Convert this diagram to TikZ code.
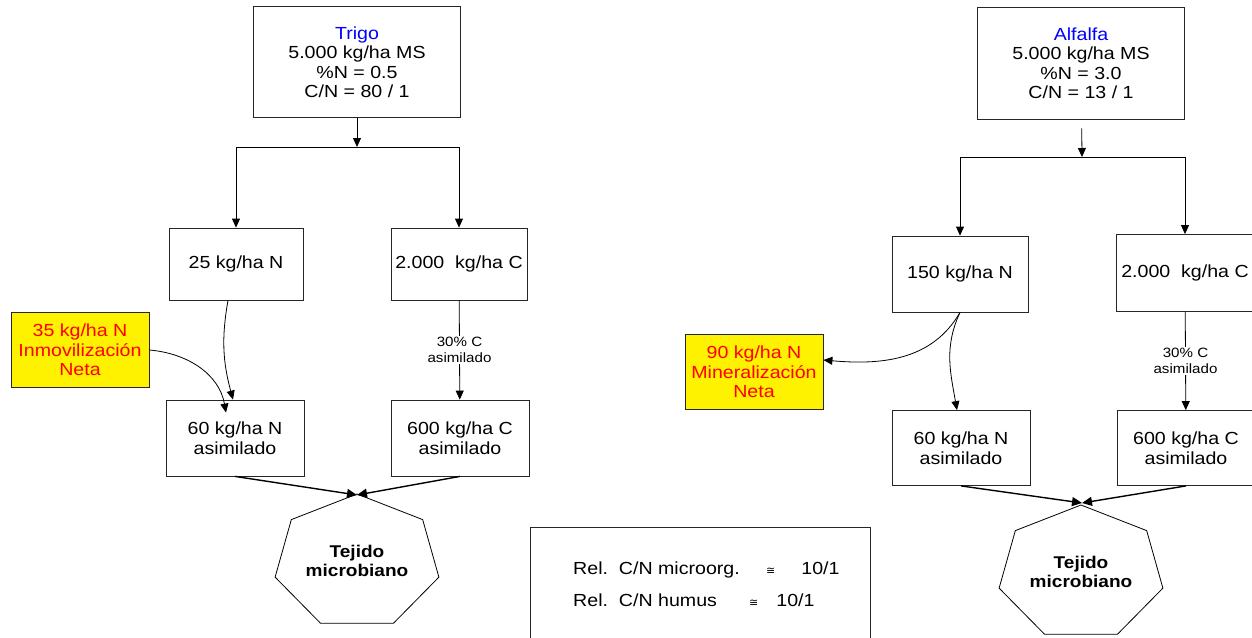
\documentclass[tikz,border=0pt]{standalone}
\usepackage{fontspec}
\setmainfont{Liberation Sans}[FakeStretch=1.12]
\newfontfamily\simbolo{DejaVu Sans}
\usetikzlibrary{arrows.meta,calc}

\tikzset{
  caja/.style={draw=black!85, line width=0.8pt, minimum width=136pt, minimum height=74pt, align=center, inner sep=2pt},
  nota/.style={caja, fill=yellow, text=red},
  flecha/.style={line width=0.8pt, -{Triangle[length=9pt,width=8pt]}},
  union/.style={line width=1.4pt, -{Triangle[length=10pt,width=9pt]}},
  chico/.style={fill=white, inner sep=1pt, align=center, font=\fontsize{13.5}{15.5}\selectfont},
  tejido/.style={align=center, font=\fontsize{17}{19.5}\selectfont\bfseries}
}
\newcommand{\aprox}{{\simbolo\fontsize{11}{13}\selectfont ≅}}

\begin{document}
\begin{tikzpicture}[x=1pt, y=1pt, font=\fontsize{17.5}{19.5}\selectfont]
  \useasboundingbox (0,0) rectangle (1252,-637);

  % Trigo
  \node[caja, minimum width=207pt, minimum height=111pt] (trigo) at (357,-62)
    {\textcolor{blue}{Trigo}\\5.000 kg/ha MS\\\%N = 0.5\\C/N = 80 / 1};
  \coordinate (splitA) at (357,-147);
  \node[caja, minimum width=134pt, minimum height=72pt] (nA) at (236,-264) {25 kg/ha N};
  \node[caja, minimum height=72pt] (cA) at (459,-264) {2.000\ \ kg/ha C};
  \node[nota, minimum width=138pt, minimum height=75pt] (inmov) at (80,-350)
    {35 kg/ha N\\Inmovilización\\Neta};
  \node[caja, minimum width=138pt, minimum height=76pt] (naA) at (235,-438) {60 kg/ha N\\asimilado};
  \node[caja, minimum width=138pt, minimum height=76pt] (caA) at (460,-438) {600 kg/ha C\\asimilado};

  \draw[flecha] (trigo) -- (splitA);
  \draw[flecha] (splitA) -| (nA);
  \draw[flecha] (splitA) -| (cA);
  \draw[flecha] (cA) -- node[chico] {30\% C\\asimilado} (caA);
  \draw[flecha] ([xshift=-8pt]nA.south) to[out=-100,in=105] ([xshift=-2pt]naA.north);
  \draw[flecha] (inmov.east) to[out=-5,in=100] ([xshift=-9pt,yshift=-13pt]naA.north);

  % tejido microbiano (trigo)
  \draw[line width=0.8pt, shift={(357,-562)}]
    plot[samples at={0,...,6}] ({84*cos(90+\x*360/7)},{68*sin(90+\x*360/7)}) -- cycle;
  \coordinate (topA) at (357,-495);
  \node[tejido] (tejA) at (357,-561) {Tejido\\microbiano};
  \draw[union] (naA.south) -- (topA);
  \draw[union] (caA.south) -- (topA);

  % Alfalfa
  \node[caja, minimum width=207pt, minimum height=112pt] (alfalfa) at (1081,-63)
    {\textcolor{blue}{Alfalfa}\\5.000 kg/ha MS\\\%N = 3.0\\C/N = 13 / 1};
  \coordinate (splitB) at (1082,-157);
  \node[caja, minimum height=76pt] (nB) at (960,-274) {150 kg/ha N};
  \node[caja, minimum width=138pt, minimum height=77pt] (cB) at (1185,-273) {2.000\ \ kg/ha C};
  \node[nota, minimum width=138pt, minimum height=75pt] (miner) at (754,-372)
    {90 kg/ha N\\Mineralización\\Neta};
  \node[caja, minimum width=138pt, minimum height=75pt] (naB) at (961,-448) {60 kg/ha N\\asimilado};
  \node[caja, minimum width=138pt, minimum height=75pt] (caB) at (1186,-448) {600 kg/ha C\\asimilado};

  \draw[flecha, shorten <=9pt] (alfalfa) -- (splitB);
  \draw[flecha] (splitB) -| (nB);
  \draw[flecha] (splitB) -| (cB);
  \draw[flecha] (cB) -- node[chico] {30\% C\\asimilado} (caB);
  \draw[flecha] (nB.south) to[out=-120,in=-5] ([yshift=12pt]miner.east);
  \draw[flecha] (nB.south) to[out=-115,in=100] ([xshift=-4pt]naB.north);

  % tejido microbiano (alfalfa)
  \draw[line width=0.8pt, shift={(1081,-573)}]
    plot[samples at={0,...,6}] ({84*cos(90+\x*360/7)},{68*sin(90+\x*360/7)}) -- cycle;
  \coordinate (topB) at (1082,-503);
  \node[tejido] (tejB) at (1081,-572) {Tejido\\microbiano};
  \draw[union] (naB.south) -- (topB);
  \draw[union] (caB.south) -- (topB);

  % relaciones C/N
  \node[caja, minimum width=340pt, minimum height=132pt] (relbox) at (700,-593) {};
  \node[anchor=west, align=left, inner sep=0pt] (reltxt) at (573,-584)
    {\makebox[193pt][l]{Rel.\ \ C/N microorg.}\aprox\hspace{26pt}10/1\\[12pt]
     \makebox[176pt][l]{Rel.\ \ C/N humus}\aprox\hspace{18pt}10/1};
\end{tikzpicture}
\end{document}
